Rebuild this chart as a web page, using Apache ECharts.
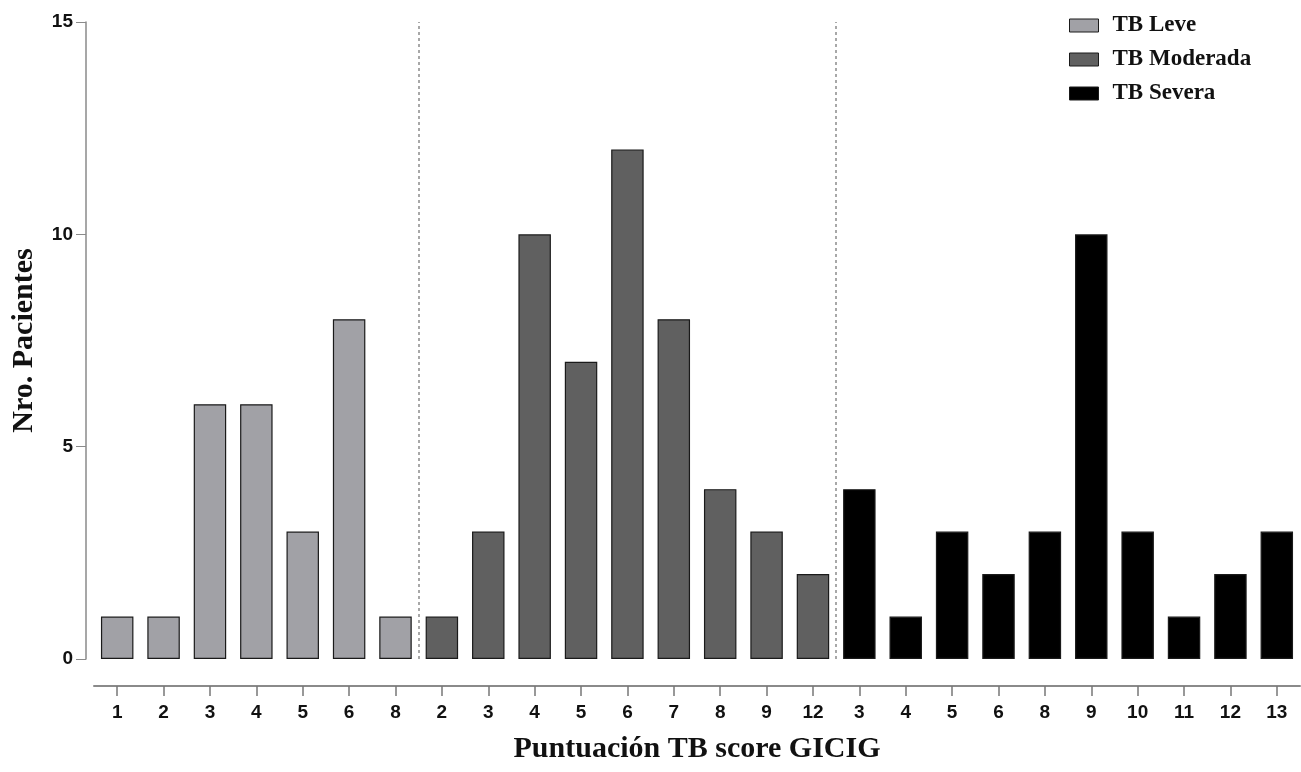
<!DOCTYPE html>
<html>
<head>
<meta charset="utf-8">
<script src="https://cdn.jsdelivr.net/npm/echarts@6/dist/echarts.min.js"></script>
<style>
  html, body { margin: 0; padding: 0; background: #fff; }
  #chart { width: 1301px; height: 772px; }
</style>
</head>
<body>
<div id="chart"></div>
<script>
// TB score per severity group and number of patients at each score
const leveScores = ['1', '2', '3', '4', '5', '6', '8'];
const leveCounts = [1, 1, 6, 6, 3, 8, 1];
const moderadaScores = ['2', '3', '4', '5', '6', '7', '8', '9', '12'];
const moderadaCounts = [1, 3, 10, 7, 12, 8, 4, 3, 2];
const severaScores = ['3', '4', '5', '6', '8', '9', '10', '11', '12', '13'];
const severaCounts = [4, 1, 3, 2, 3, 10, 3, 1, 2, 3];
const yTicks = [0, 5, 10, 15];

const groups = [
  { name: 'TB Leve', scores: leveScores, counts: leveCounts, color: '#a1a1a6' },
  { name: 'TB Moderada', scores: moderadaScores, counts: moderadaCounts, color: '#606060' },
  { name: 'TB Severa', scores: severaScores, counts: severaCounts, color: '#000000' }
];

// one category slot per bar, groups laid out left to right
const categories = [];
groups.forEach(g => g.scores.forEach(s => categories.push(s)));
const total = categories.length;

// category count where each group ends (separator positions)
const boundaries = [];
let acc = 0;
groups.forEach((g, i) => {
  acc += g.scores.length;
  if (i < groups.length - 1) boundaries.push(acc);
});

let offset = 0;
const barSeries = groups.map(g => {
  const data = new Array(total).fill('-');
  g.counts.forEach((v, i) => { data[offset + i] = v; });
  offset += g.counts.length;
  return {
    name: g.name,
    type: 'bar',
    stack: 'all',
    barWidth: '70%',
    data: data,
    itemStyle: { color: g.color, borderColor: '#1a1a1a', borderWidth: 1.2 }
  };
});

const chart = echarts.init(document.getElementById('chart'), null, { renderer: 'canvas' });
chart.setOption({
  animation: false,
  backgroundColor: '#ffffff',
  grid: { left: 94, right: 1, top: 22, bottom: 113, outerBoundsMode: 'none', containLabel: false },
  legend: {
    orient: 'vertical',
    left: 1064,
    top: 9,
    itemWidth: 29,
    itemHeight: 13,
    itemGap: 11,
    icon: 'rect',
    data: groups.map(g => g.name),
    itemStyle: { borderColor: '#1a1a1a', borderWidth: 1 },
    textStyle: { fontFamily: 'Liberation Serif', fontWeight: 'bold', fontSize: 23, lineHeight: 21, color: '#111', padding: [0, 0, 0, 9] }
  },
  xAxis: [
    {
      type: 'category',
      data: categories,
      offset: 27,
      name: 'Puntuación TB score GICIG',
      nameLocation: 'middle',
      nameGap: 48,
      nameTextStyle: { fontFamily: 'Liberation Serif', fontWeight: 'bold', fontSize: 30, color: '#111' },
      axisLine: { show: true, onZero: false, lineStyle: { color: '#8a8a8a', width: 2 } },
      axisTick: { show: true, alignWithLabel: true, length: 10, lineStyle: { color: '#777', width: 1.5 } },
      axisLabel: { margin: 17, fontFamily: 'Liberation Sans', fontWeight: 'bold', fontSize: 19, color: '#111' },
      splitLine: { show: false }
    },
    {
      type: 'value',
      min: 0,
      max: total,
      show: false
    }
  ],
  yAxis: {
    type: 'value',
    min: yTicks[0],
    max: yTicks[yTicks.length - 1],
    interval: yTicks[1] - yTicks[0],
    offset: 8,
    name: 'Nro. Pacientes',
    nameLocation: 'middle',
    nameRotate: 90,
    nameGap: 47,
    nameTextStyle: { fontFamily: 'Liberation Serif', fontWeight: 'bold', fontSize: 30, color: '#111' },
    axisLine: { show: true, onZero: false, lineStyle: { color: '#8a8a8a', width: 1.5 } },
    axisTick: { show: true, length: 10, lineStyle: { color: '#8a8a8a', width: 1 } },
    axisLabel: { margin: 13, fontFamily: 'Liberation Sans', fontWeight: 'bold', fontSize: 19, color: '#111' },
    splitLine: { show: false }
  },
  series: barSeries.concat([
    {
      name: 'separators',
      type: 'scatter',
      xAxisIndex: 1,
      data: [],
      silent: true,
      markLine: {
        symbol: 'none',
        silent: true,
        label: { show: false },
        lineStyle: { color: '#8c8c8c', type: [3, 3], width: 1.5 },
        data: boundaries.map(b => ({ xAxis: b }))
      }
    }
  ])
});
</script>
</body>
</html>
